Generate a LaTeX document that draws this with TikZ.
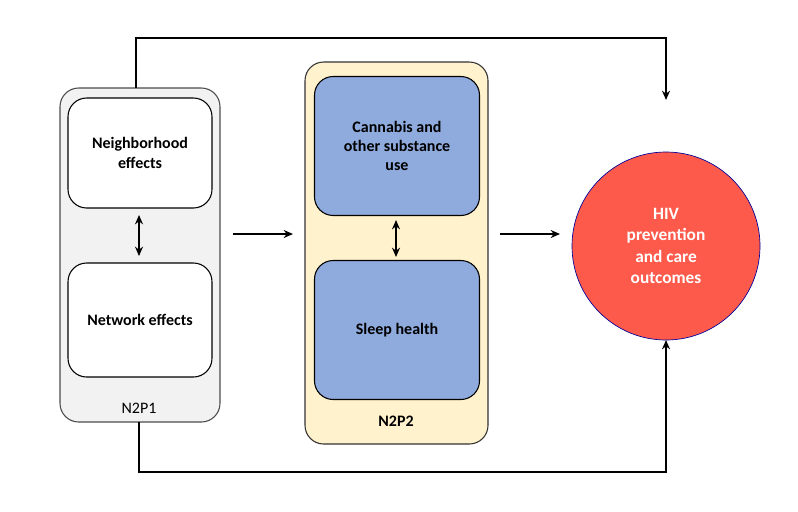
\documentclass[tikz,border=0pt]{standalone}
\usepackage{fontspec}
\setmainfont{Carlito}
\usetikzlibrary{arrows.meta}
\definecolor{grayfill}{HTML}{F2F2F2}
\definecolor{yel}{HTML}{FFF2CC}
\definecolor{blu}{HTML}{8FAADC}
\definecolor{redc}{HTML}{FD5A4B}
\begin{document}
\begin{tikzpicture}[x=0.75pt,y=-0.75pt,
  cont/.style={draw=black!70,rounded corners=14pt,line width=0.8pt},
  inbox/.style={draw=black,rounded corners=14pt,line width=0.8pt,align=center,font=\bfseries\fontsize{12}{14.5}\selectfont},
  arr/.style={-{Stealth[length=7pt,width=6pt]},line width=1.2pt},
  darr/.style={{Stealth[length=7pt,width=6pt]}-{Stealth[length=7pt,width=6pt]},line width=1.2pt}]
\useasboundingbox (0,0) rectangle (798,511);
% left container
\draw[cont,fill=grayfill] (60,88) rectangle (220,422);
\node[inbox,fill=white,minimum width=144*0.75pt,minimum height=110*0.75pt] (nb) at (140,153) {Neighborhood\\effects};
\node[inbox,fill=white,minimum width=144*0.75pt,minimum height=114*0.75pt] (nw) at (140,320) {Network effects};
\node[font=\fontsize{12}{14}\selectfont] (n1) at (139,408) {N2P1};
\coordinate (c1) at (139,215); \coordinate (c2) at (139,256);
\draw[darr] (c1) -- (c2);
\coordinate (a1) at (233,234); \coordinate (a2) at (293,234);
\draw[arr] (a1) -- (a2);
% middle container
\draw[cont,draw=black!80,fill=yel] (305,62) rectangle (488,444);
\node[inbox,fill=blu,minimum width=165*0.75pt,minimum height=139*0.75pt] (cb) at (397,146) {Cannabis and\\other substance\\use};
\node[inbox,fill=blu,minimum width=165*0.75pt,minimum height=139*0.75pt] (sl) at (397,330) {Sleep health};
\node[font=\bfseries\fontsize{12}{14}\selectfont] (n2) at (396,421) {N2P2};
\coordinate (d1) at (396,220); \coordinate (d2) at (396,257);
\draw[darr] (d1) -- (d2);
\coordinate (b1) at (500,234); \coordinate (b2) at (560,234);
\draw[arr] (b1) -- (b2);
% circle
\node[circle,draw=blue!60!black,line width=0.5pt,fill=redc,minimum size=188*0.75pt,text=white,align=center,font=\bfseries\fontsize{13}{16}\selectfont] (hiv) at (666,246) {HIV\\prevention\\and care\\outcomes};
% top and bottom lines
\coordinate (t0) at (136,88); \coordinate (t1) at (136,38); \coordinate (t2) at (666,38); \coordinate (t3) at (666,100);
\draw[arr] (t0) -- (t1) -- (t2) -- (t3);
\coordinate (u0) at (139,422); \coordinate (u1) at (139,472); \coordinate (u2) at (666,472); \coordinate (u3) at (666,340);
\draw[arr] (u0) -- (u1) -- (u2) -- (u3);
\end{tikzpicture}
\end{document}
